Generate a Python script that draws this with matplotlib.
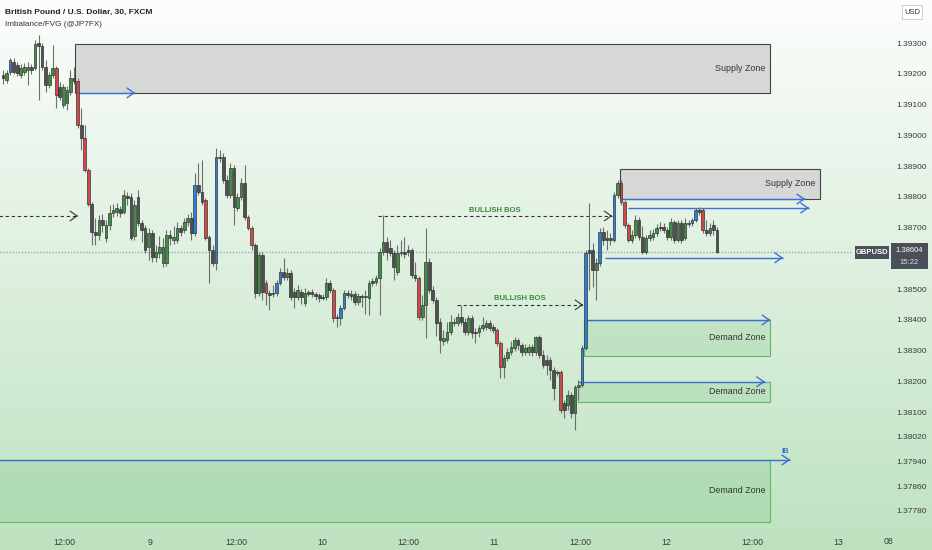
import matplotlib
matplotlib.use("Agg")
import matplotlib.pyplot as plt
import numpy as np
from matplotlib.patches import Rectangle

plt.rcParams['font.family'] = ['Liberation Sans', 'DejaVu Sans']

# ---------------- data (GBPUSD 30m) ----------------
opens = [1.39196,1.39180,1.39206,1.39239,1.39229,1.39196,1.39206,1.39213,1.39222,1.39219,
         1.39300,1.39291,1.39222,1.39164,1.39196,1.39219,1.39157,1.39099,1.39105,1.39141,
         1.39187,1.39177,1.39034,1.38992,1.38888,1.38777,1.38686,1.38676,1.38725,1.38667,
         1.38709,1.38748,1.38751,1.38761,1.38751,1.38803,1.38800,1.38673,1.38800,1.38715,
         1.38699,1.38637,1.38683,1.38605,1.38618,1.38585,1.38585,1.38676,1.38660,1.38660,
         1.38699,1.38693,1.38719,1.38732,1.38683,1.38839,1.38816,1.38790,1.38670,1.38628,
         1.38585,1.38930,1.38930,1.38855,1.38806,1.38894,1.38764,1.38800,1.38845,1.38735,
         1.38699,1.38644,1.38488,1.38611,1.38520,1.38488,1.38485,1.38488,1.38520,1.38556,
         1.38540,1.38553,1.38491,1.38475,1.38491,1.38455,1.38491,1.38491,1.38485,1.38481,
         1.38475,1.38475,1.38520,1.38498,1.38410,1.38407,1.38439,1.38488,1.38485,1.38485,
         1.38459,1.38478,1.38475,1.38472,1.38527,1.38524,1.38537,1.38621,1.38654,1.38634,
         1.38618,1.38556,1.38618,1.38621,1.38628,1.38628,1.38546,1.38537,1.38410,1.38449,
         1.38589,1.38498,1.38465,1.38394,1.38332,1.38335,1.38361,1.38394,1.38390,1.38410,
         1.38394,1.38361,1.38407,1.38361,1.38361,1.38374,1.38377,1.38390,1.38377,1.38368,
         1.38325,1.38247,1.38277,1.38296,1.38309,1.38335,1.38319,1.38296,1.38296,1.38312,
         1.38296,1.38345,1.38286,1.38270,1.38270,1.38238,1.38231,1.38231,1.38130,1.38124,
         1.38156,1.38098,1.38182,1.38189,1.38309,1.38628,1.38628,1.38563,1.38585,1.38686,
         1.38667,1.38667,1.38660,1.38806,1.38845,1.38784,1.38709,1.38660,1.38676,1.38725,
         1.38670,1.38621,1.38667,1.38670,1.38683,1.38699,1.38702,1.38693,1.38670,1.38719,
         1.38660,1.38715,1.38667,1.38712,1.38715,1.38725,1.38758,1.38758,1.38693,1.38683,
         1.38709,1.38693]
highs = [1.39213,1.39213,1.39252,1.39252,1.39239,1.39232,1.39235,1.39239,1.39232,1.39310,
         1.39326,1.39300,1.39245,1.39206,1.39294,1.39226,1.39174,1.39167,1.39161,1.39213,
         1.39222,1.39187,1.39089,1.39034,1.38894,1.38784,1.38732,1.38741,1.38745,1.38725,
         1.38774,1.38777,1.38780,1.38771,1.38823,1.38816,1.38813,1.38790,1.38823,1.38725,
         1.38709,1.38699,1.38693,1.38644,1.38673,1.38667,1.38693,1.38693,1.38706,1.38719,
         1.38709,1.38732,1.38745,1.38751,1.38878,1.38910,1.38920,1.38797,1.38676,1.38644,
         1.38959,1.38953,1.38943,1.38871,1.38910,1.38904,1.38813,1.38862,1.38904,1.38741,
         1.38706,1.38650,1.38621,1.38621,1.38530,1.38498,1.38514,1.38530,1.38569,1.38602,
         1.38569,1.38563,1.38504,1.38514,1.38501,1.38504,1.38498,1.38501,1.38491,1.38488,
         1.38485,1.38537,1.38530,1.38504,1.38420,1.38449,1.38498,1.38498,1.38498,1.38494,
         1.38488,1.38485,1.38498,1.38530,1.38537,1.38546,1.38634,1.38741,1.38670,1.38660,
         1.38628,1.38644,1.38660,1.38670,1.38644,1.38634,1.38589,1.38543,1.38481,1.38699,
         1.38602,1.38511,1.38475,1.38407,1.38368,1.38394,1.38416,1.38407,1.38423,1.38449,
         1.38407,1.38416,1.38416,1.38374,1.38384,1.38410,1.38400,1.38400,1.38387,1.38374,
         1.38332,1.38286,1.38309,1.38332,1.38345,1.38342,1.38325,1.38322,1.38322,1.38322,
         1.38348,1.38351,1.38303,1.38286,1.38280,1.38247,1.38238,1.38238,1.38140,1.38173,
         1.38166,1.38189,1.38205,1.38319,1.38628,1.38780,1.38650,1.38602,1.38699,1.38702,
         1.38693,1.38683,1.38816,1.38855,1.38855,1.38790,1.38715,1.38693,1.38741,1.38735,
         1.38706,1.38676,1.38693,1.38696,1.38712,1.38719,1.38715,1.38702,1.38732,1.38725,
         1.38725,1.38725,1.38732,1.38725,1.38732,1.38764,1.38767,1.38764,1.38725,1.38715,
         1.38725,1.38702]
lows = [1.39167,1.39170,1.39196,1.39200,1.39193,1.39187,1.39196,1.39164,1.39200,1.39213,
        1.39115,1.39213,1.39141,1.39154,1.39187,1.39089,1.39115,1.39089,1.39083,1.39131,
        1.39167,1.39024,1.38953,1.38881,1.38771,1.38644,1.38644,1.38660,1.38686,1.38654,
        1.38693,1.38735,1.38738,1.38735,1.38745,1.38774,1.38660,1.38660,1.38706,1.38654,
        1.38618,1.38595,1.38589,1.38589,1.38602,1.38572,1.38576,1.38644,1.38647,1.38650,
        1.38673,1.38683,1.38706,1.38660,1.38673,1.38806,1.38774,1.38660,1.38520,1.38576,
        1.38563,1.38914,1.38845,1.38797,1.38797,1.38709,1.38754,1.38790,1.38725,1.38693,
        1.38628,1.38472,1.38478,1.38465,1.38449,1.38433,1.38475,1.38478,1.38514,1.38530,
        1.38530,1.38465,1.38439,1.38465,1.38452,1.38446,1.38478,1.38475,1.38465,1.38459,
        1.38465,1.38465,1.38488,1.38394,1.38377,1.38384,1.38433,1.38472,1.38465,1.38449,
        1.38449,1.38442,1.38420,1.38416,1.38511,1.38514,1.38416,1.38611,1.38595,1.38608,
        1.38530,1.38546,1.38608,1.38602,1.38608,1.38537,1.38527,1.38400,1.38400,1.38342,
        1.38488,1.38455,1.38348,1.38293,1.38319,1.38325,1.38351,1.38381,1.38381,1.38384,
        1.38351,1.38351,1.38342,1.38325,1.38345,1.38364,1.38368,1.38364,1.38358,1.38316,
        1.38212,1.38212,1.38267,1.38286,1.38299,1.38303,1.38283,1.38286,1.38286,1.38283,
        1.38286,1.38277,1.38244,1.38221,1.38205,1.38140,1.38218,1.38098,1.38082,1.38108,
        1.38082,1.38043,1.38140,1.38182,1.38303,1.38498,1.38507,1.38465,1.38576,1.38644,
        1.38628,1.38644,1.38654,1.38797,1.38774,1.38699,1.38654,1.38650,1.38667,1.38660,
        1.38615,1.38615,1.38657,1.38660,1.38673,1.38689,1.38683,1.38660,1.38660,1.38650,
        1.38654,1.38650,1.38660,1.38702,1.38706,1.38719,1.38741,1.38683,1.38673,1.38673,
        1.38676,1.38618]
closes = [1.39187,1.39203,1.39245,1.39206,1.39203,1.39219,1.39222,1.39222,1.39213,1.39297,
          1.39291,1.39222,1.39164,1.39196,1.39219,1.39131,1.39125,1.39157,1.39148,1.39187,
          1.39177,1.39034,1.38992,1.38888,1.38777,1.38686,1.38676,1.38725,1.38709,1.38709,
          1.38748,1.38758,1.38764,1.38748,1.38806,1.38797,1.38667,1.38774,1.38715,1.38693,
          1.38628,1.38683,1.38605,1.38621,1.38637,1.38637,1.38676,1.38667,1.38670,1.38699,
          1.38686,1.38719,1.38732,1.38683,1.38839,1.38816,1.38784,1.38667,1.38628,1.38585,
          1.38930,1.38927,1.38855,1.38806,1.38894,1.38767,1.38800,1.38845,1.38735,1.38699,
          1.38644,1.38488,1.38611,1.38491,1.38488,1.38481,1.38488,1.38520,1.38556,1.38540,
          1.38553,1.38475,1.38475,1.38498,1.38475,1.38488,1.38485,1.38485,1.38478,1.38472,
          1.38472,1.38520,1.38498,1.38407,1.38407,1.38439,1.38488,1.38481,1.38478,1.38459,
          1.38478,1.38475,1.38478,1.38520,1.38520,1.38537,1.38621,1.38654,1.38621,1.38618,
          1.38572,1.38618,1.38621,1.38615,1.38621,1.38546,1.38537,1.38410,1.38449,1.38589,
          1.38498,1.38465,1.38390,1.38335,1.38342,1.38361,1.38394,1.38390,1.38410,1.38394,
          1.38361,1.38407,1.38358,1.38358,1.38374,1.38384,1.38390,1.38374,1.38368,1.38325,
          1.38247,1.38277,1.38296,1.38312,1.38335,1.38319,1.38296,1.38309,1.38312,1.38296,
          1.38345,1.38286,1.38254,1.38254,1.38238,1.38179,1.38228,1.38108,1.38108,1.38156,
          1.38098,1.38182,1.38189,1.38309,1.38618,1.38618,1.38563,1.38585,1.38686,1.38660,
          1.38660,1.38660,1.38806,1.38845,1.38784,1.38709,1.38660,1.38676,1.38725,1.38670,
          1.38621,1.38667,1.38676,1.38683,1.38699,1.38702,1.38693,1.38670,1.38719,1.38660,
          1.38715,1.38660,1.38715,1.38715,1.38725,1.38758,1.38751,1.38693,1.38683,1.38699,
          1.38693,1.38621]

# candles flagged by the Imbalance/FVG indicator
imbalance_idx = [2, 15, 21, 23, 24, 54, 57, 60, 69, 70, 74, 77, 78, 93, 95, 96, 117,
                 139, 140, 157, 163, 164, 168, 172, 174, 175, 176, 194, 195, 197]

x_tick_pos = [17.2, 41.4, 65.6, 89.8, 114.0, 138.2, 162.4, 186.6, 210.8, 235.0]
x_tick_labels = ["12:00", "9", "12:00", "10", "12:00", "11", "12:00", "12", "12:00", "13"]

y_ticks = [1.393, 1.392, 1.391, 1.390, 1.389, 1.388, 1.387, 1.385, 1.384,
           1.383, 1.382, 1.381, 1.3802, 1.3794, 1.3786, 1.3778]
y_tick_labels = ["1.39300", "1.39200", "1.39100", "1.39000", "1.38900", "1.38800",
                 "1.38700", "1.38500", "1.38400", "1.38300", "1.38200", "1.38100", "1.38020",
                 "1.37940", "1.37860", "1.37780"]

# zones: (start index, end index, top price, bottom price, label)
supply_zones = [(20.4, 216.0, 1.39297, 1.39138, "Supply Zone"),
                (173.7, 230.0, 1.38891, 1.38793, "Supply Zone")]
demand_zones = [(163.6, 216.0, 1.38400, 1.38283, "Demand Zone"),
                (161.9, 216.0, 1.38199, 1.38134, "Demand Zone"),
                (-2.0, 216.0, 1.37945, 1.37744, "Demand Zone")]
# blue projection lines: (start, end, price)
blue_lines = [(20.4, 37.2, 1.39138),
              (173.7, 225.8, 1.38793),
              (176.0, 226.9, 1.38764),
              (169.5, 219.6, 1.38602),
              (164.5, 216.0, 1.38400),
              (161.9, 214.5, 1.38199),
              (-2.0, 221.6, 1.37945)]
# dashed break-of-structure lines: (start, end, price, label)
bos_lines = [(-2.0, 21.1, 1.38738, ""),
             (105.6, 171.5, 1.38738, "BULLISH BOS"),
             (127.8, 163.3, 1.38449, "BULLISH BOS")]
last_price_label = "1.38604"
countdown_label = "15:22"

# ---------------- figure ----------------
W, H = 932, 550
fig = plt.figure(figsize=(W / 100, H / 100), dpi=100)

bg = fig.add_axes([0, 0, 1, 1], zorder=-10)
top_c = np.array([252, 253, 252]) / 255
bot_c = np.array([190, 226, 192]) / 255
t = np.linspace(0, 1, 256)[:, None]
grad = top_c[None, :] * (1 - t) + bot_c[None, :] * t
bg.imshow(grad[:, None, :], aspect='auto', extent=[0, 1, 0, 1])
bg.axis('off')

ax = fig.add_axes([0, 23 / H, 852 / W, 527 / H])
ax.set_facecolor('none')
for s in ax.spines.values():
    s.set_visible(False)

n = len(opens)
xs = np.arange(n)
ax.set_xlim(-0.845, 239.0)
ax.set_ylim(1.37727, 1.39440)

# zones
for x0, x1, top, bot, lab in supply_zones:
    ax.add_patch(Rectangle((x0, bot), x1 - x0, top - bot, facecolor='#d5d7d5',
                           edgecolor='#3a3a3a', lw=0.8, alpha=0.95, zorder=1))
    ax.text(x1 - 1.3, (top + bot) / 2, lab, ha='right', va='center', fontsize=6.4,
            color='#333333', zorder=5)
for x0, x1, top, bot, lab in demand_zones:
    ax.add_patch(Rectangle((x0, bot), x1 - x0, top - bot, facecolor=(0.33, 0.70, 0.36, 0.16),
                           edgecolor='#63b866', lw=0.8, zorder=1))
    ax.text(x1 - 1.3, (top + bot) / 2, lab, ha='right', va='center', fontsize=6.4,
            color='#333333', zorder=5)

blue = '#3b6fd8'
for x0, x1, p in blue_lines:
    ax.plot([x0, x1], [p, p], color=blue, lw=1.0, zorder=4, solid_capstyle='butt')
    ax.annotate('', xy=(x1, p), xytext=(x1 - 0.5, p),
                arrowprops=dict(arrowstyle='->,head_length=0.5,head_width=0.35', color=blue,
                                lw=1.0, shrinkA=0, shrinkB=0), zorder=4)
ax.text(220.2, 1.37961, "IB", fontsize=5.5, fontweight='bold', color=blue,
        ha='center', va='bottom', zorder=5)

for x0, x1, p, lab in bos_lines:
    ax.plot([x0, x1], [p, p], color='#333333', lw=0.8, ls=(0, (3, 2.5)), zorder=4)
    ax.annotate('', xy=(x1, p), xytext=(x1 - 0.5, p),
                arrowprops=dict(arrowstyle='->,head_length=0.5,head_width=0.35', color='#333333',
                                lw=0.8, shrinkA=0, shrinkB=0), zorder=4)
    if lab:
        ax.text((x0 + x1) / 2, p + 0.00008, lab, ha='center', va='bottom', fontsize=5.5,
                fontweight='bold', color='#3a8a3f', zorder=5)

# last price dotted line
last_close = closes[-1]
ax.axhline(last_close, color='#93aebf', lw=1.0, ls=(0, (1, 1.2)), zorder=2)

# candles
o = np.array(opens); h = np.array(highs); l = np.array(lows); c = np.array(closes)
bull = c >= o
colors = np.where(bull, '#3f8f42', '#4f4f4f').astype(object)
for i in imbalance_idx:
    colors[i] = '#2f7fd6' if bull[i] else '#d04848'
ax.vlines(xs, l, h, color='#6e6e6e', lw=0.8, zorder=6)
bottoms = np.minimum(o, c)
heights = np.maximum(np.abs(c - o), 0.000015)
ax.bar(xs, heights, bottom=bottoms, width=0.76, color=list(colors),
       edgecolor='#2a2a2a', linewidth=0.45, zorder=7)

# axes ticks
ax.yaxis.tick_right()
ax.set_yticks(y_ticks)
ax.set_yticklabels(y_tick_labels)
ax.tick_params(axis='y', length=0, pad=32, labelsize=6, labelcolor='#3a3a3a')
ax.set_xticks(x_tick_pos)
ax.set_xticklabels(x_tick_labels)
ax.tick_params(axis='x', length=0, pad=8, labelsize=6.3, labelcolor='#3a3a3a')

# header text
fig.text(5 / W, 1 - 12 / H, "British Pound / U.S. Dollar, 30, FXCM", fontsize=6,
         fontweight='bold', color='#222222', va='center', ha='left')
fig.text(5 / W, 1 - 25 / H, "Imbalance/FVG (@JP7FX)", fontsize=5.9, color='#333333',
         va='center', ha='left')
fig.text(888 / W, 1 - 541 / H, "08", fontsize=6.3, color='#3a3a3a', va='center', ha='center')

# USD box
fig.add_artist(Rectangle((902 / W, 1 - 19 / H), 20 / W, 14 / H, transform=fig.transFigure,
                         facecolor='white', edgecolor='#c8c8c8', lw=0.6, zorder=10))
fig.text(912 / W, 1 - 12 / H, "USD", fontsize=5.5, color='#333333', ha='center',
         va='center', zorder=11)

# price labels
fig.add_artist(Rectangle((855 / W, 1 - 259 / H), 34 / W, 13 / H, transform=fig.transFigure,
                         facecolor='#4b4f5a', edgecolor='none', zorder=10))
fig.text(872 / W, 1 - 252.5 / H, "GBPUSD", fontsize=5.5, color='white', fontweight='bold',
         ha='center', va='center', zorder=11)
fig.add_artist(Rectangle((891 / W, 1 - 269 / H), 37 / W, 26 / H, transform=fig.transFigure,
                         facecolor='#4b4f5a', edgecolor='none', zorder=10))
fig.text(909.5 / W, 1 - 250 / H, last_price_label, fontsize=5.5, color='white',
         ha='center', va='center', zorder=11)
fig.text(909.5 / W, 1 - 262 / H, countdown_label, fontsize=5.5, color='#dddddd',
         ha='center', va='center', zorder=11)

fig.savefig("out.png", dpi=100)
